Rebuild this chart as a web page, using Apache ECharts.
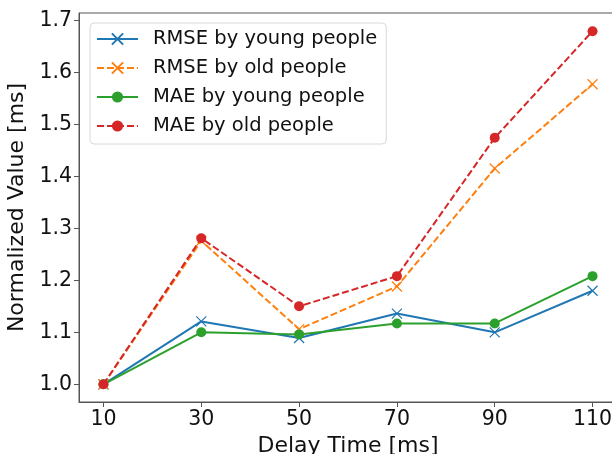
<!DOCTYPE html>
<html>
<head>
<meta charset="utf-8">
<script src="https://cdn.jsdelivr.net/npm/echarts@6/dist/echarts.min.js"></script>
<style>html,body{margin:0;padding:0;background:#fff;}#c{width:612px;height:454px;}</style>
</head>
<body>
<div id="c"></div>
<script>
const delays = [10, 30, 50, 70, 90, 110];
const yTicks = [1.0, 1.1, 1.2, 1.3, 1.4, 1.5, 1.6, 1.7];
const rmseYoung = [1.0, 1.121, 1.089, 1.136, 1.100, 1.180];
const rmseOld = [1.0, 1.276, 1.106, 1.188, 1.415, 1.577];
const maeYoung = [1.0, 1.100, 1.096, 1.117, 1.117, 1.208];
const maeOld = [1.0, 1.281, 1.150, 1.208, 1.474, 1.679];
const seriesNames = ['RMSE by young people', 'RMSE by old people', 'MAE by young people', 'MAE by old people'];

const FONT = 'DejaVu Sans';
const crossPath = 'path://M0,0L10,10M10,0L0,10';
function mk(name, vals, color, dashed, cross) {
  return {
    name: name,
    type: 'line',
    data: delays.map((d, i) => [d, vals[i]]),
    symbol: cross ? crossPath : 'circle',
    symbolSize: cross ? 10 : 10,
    showSymbol: true,
    lineStyle: { color: color, width: 2, type: dashed ? [7, 3] : 'solid' },
    itemStyle: cross ? { color: color, borderColor: color, borderWidth: 1.2 } : { color: color, borderWidth: 0 },
    emphasis: { disabled: true },
    animation: false
  };
}
const chart = echarts.init(document.getElementById('c'), null, { renderer: 'canvas' });
chart.setOption({
  animation: false,
  textStyle: { fontFamily: FONT },
  grid: { left: 79, right: -5, top: 13, bottom: 52, show: true, borderColor: '#555', borderWidth: 1, backgroundColor: 'transparent', outerBoundsMode: 'none', containLabel: false },
  legend: {
    orient: 'vertical', left: 90, top: 23,
    padding: [6, 9, 8, 6],
    itemWidth: 41, itemHeight: 14, itemGap: 9,
    backgroundColor: '#fff', borderColor: '#d8d8d8', borderWidth: 1, borderRadius: 4,
    textStyle: { fontFamily: FONT, fontSize: 19.5, color: '#111', padding: [0, 0, 0, 10] },
    data: seriesNames
  },
  xAxis: {
    type: 'value', min: 5, max: 115,
    name: 'Delay Time [ms]', nameLocation: 'middle', nameGap: 29,
    nameTextStyle: { fontFamily: FONT, fontSize: 22, color: '#111' },
    axisLine: { show: true, lineStyle: { color: '#555', width: 1 } },
    axisTick: { show: true, length: 5, customValues: delays, lineStyle: { color: '#555' } },
    axisLabel: { customValues: delays, fontFamily: FONT, fontSize: 20.5, color: '#111', margin: 7 },
    splitLine: { show: false }
  },
  yAxis: {
    type: 'value', min: 0.966, max: 1.714,
    name: 'Normalized Value [ms]', nameLocation: 'middle', nameGap: 46,
    nameTextStyle: { fontFamily: FONT, fontSize: 22, color: '#111' },
    axisLine: { show: true, lineStyle: { color: '#555', width: 1 } },
    axisTick: { show: true, length: 5, customValues: yTicks, lineStyle: { color: '#555' } },
    axisLabel: { customValues: yTicks, fontFamily: FONT, fontSize: 20.5, color: '#111', margin: 7, formatter: v => v.toFixed(1) },
    splitLine: { show: false }
  },
  series: [
    mk(seriesNames[0], rmseYoung, '#1f77b4', false, true),
    mk(seriesNames[1], rmseOld, '#ff7f0e', true, true),
    mk(seriesNames[2], maeYoung, '#2ca02c', false, false),
    mk(seriesNames[3], maeOld, '#d62728', true, false)
  ]
});
</script>
</body>
</html>
